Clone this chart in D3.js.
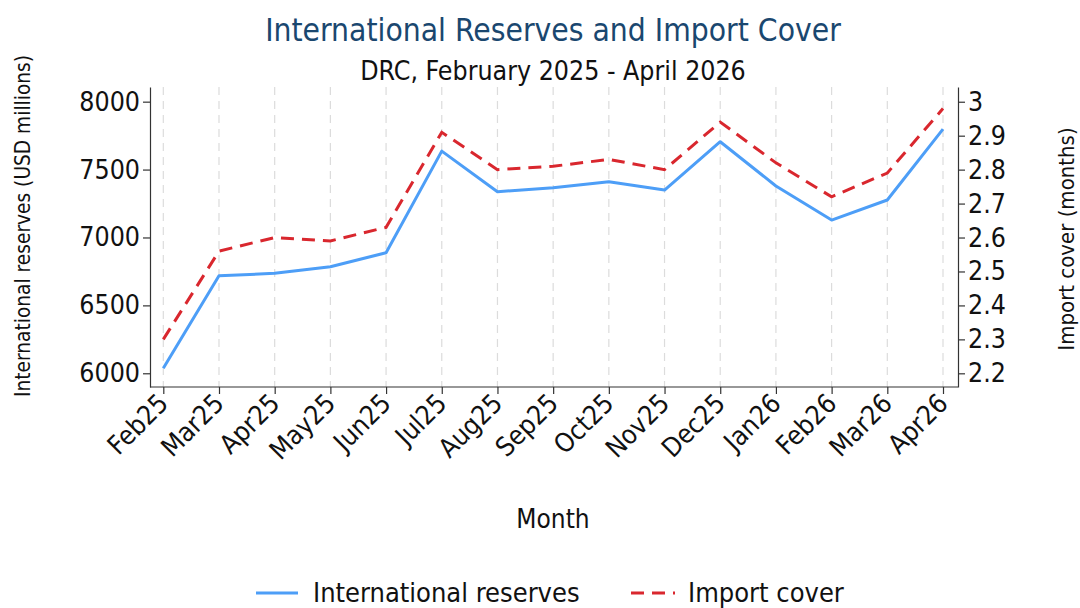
<!DOCTYPE html>
<html><head><meta charset="utf-8">
<script src="https://cdn.jsdelivr.net/npm/d3@7"></script>
<style>
body{margin:0;background:#fff;}
text{font-family:"DejaVu Sans Condensed","DejaVu Sans",sans-serif;}
</style></head>
<body><svg id="c" width="1080" height="608"></svg>
<script>
const months = ["Feb25","Mar25","Apr25","May25","Jun25","Jul25","Aug25","Sep25","Oct25","Nov25","Dec25","Jan26","Feb26","Mar26","Apr26"];
const reserves = [6037,6718,6736,6785,6888,7636,7337,7366,7410,7349,7705,7379,7128,7276,7798];
const importCover = [2.30,2.56,2.60,2.59,2.63,2.91,2.80,2.81,2.83,2.80,2.94,2.82,2.72,2.79,2.98];
const leftTicks = [6000,6500,7000,7500,8000];
const rightTicks = [2.2,2.3,2.4,2.5,2.6,2.7,2.8,2.9,3.0];

const svg = d3.select("#c");
const L=150, R=958, T=87, B=387;
const x = d3.scalePoint().domain(months).range([163.3,943]);
const yL = d3.scaleLinear().domain([5899,8108]).range([B,T]);
const yR = d3.scaleLinear().domain([2.1597,3.0434]).range([B,T]);

// gridlines
svg.append("g").selectAll("line").data(months).join("line")
  .attr("x1",d=>x(d)).attr("x2",d=>x(d)).attr("y1",T).attr("y2",B)
  .attr("stroke","#dcdcdc").attr("stroke-width",1.2).attr("stroke-dasharray","8,6");

const tickStyle = g=>{g.selectAll("path,line").attr("stroke","#333").attr("stroke-width",1.2);
  g.selectAll("text").attr("fill","#111").style("font-size","26.5px");};

svg.append("g").attr("transform",`translate(${L},0)`)
  .call(d3.axisLeft(yL).tickValues(leftTicks).tickSize(7).tickSizeOuter(0).tickPadding(3).tickFormat(d3.format("d")))
  .call(tickStyle);
svg.append("g").attr("transform",`translate(${R},0)`)
  .call(d3.axisRight(yR).tickValues(rightTicks).tickSize(7).tickSizeOuter(0).tickPadding(3).tickFormat(d=>String(+d.toFixed(1))))
  .call(tickStyle);
const xa = svg.append("g").attr("transform",`translate(0,${B})`)
  .call(d3.axisBottom(x).tickSize(7).tickSizeOuter(0).tickPadding(4));
xa.select(".domain").attr("d",`M${L},0H${R}`);
xa.call(tickStyle);
xa.selectAll("text").attr("text-anchor","end").attr("dy","0").attr("y",0)
  .attr("transform","translate(6,18) rotate(-45)");

// lines
svg.append("path").datum(reserves)
  .attr("d",d3.line().x((d,i)=>x(months[i])).y(d=>yL(d)))
  .attr("fill","none").attr("stroke","#4d9ef7").attr("stroke-width",3).attr("stroke-linejoin","round");
svg.append("path").datum(importCover)
  .attr("d",d3.line().x((d,i)=>x(months[i])).y(d=>yR(d)))
  .attr("fill","none").attr("stroke","#d9272e").attr("stroke-width",3).attr("stroke-dasharray","13,8");

// titles
svg.append("text").attr("x",553).attr("y",41).attr("text-anchor","middle")
  .attr("fill","#1a476f").style("font-size","31.5px").text("International Reserves and Import Cover");
svg.append("text").attr("x",553).attr("y",80).attr("text-anchor","middle")
  .attr("fill","#111").style("font-size","26.5px").text("DRC, February 2025 - April 2026");
svg.append("text").attr("transform","translate(30,226) rotate(-90)").attr("text-anchor","middle")
  .attr("fill","#111").style("font-size","20.7px").text("International reserves (USD millions)");
svg.append("text").attr("transform","translate(1074,239) rotate(-90)").attr("text-anchor","middle")
  .attr("fill","#111").style("font-size","22px").text("Import cover (months)");
svg.append("text").attr("x",553).attr("y",528).attr("text-anchor","middle")
  .attr("fill","#111").style("font-size","26px").text("Month");

// legend
const leg = svg.append("g");
leg.append("line").attr("x1",256).attr("x2",298).attr("y1",593).attr("y2",593)
  .attr("stroke","#4d9ef7").attr("stroke-width",3);
leg.append("text").attr("x",313).attr("y",602).attr("fill","#111").style("font-size","27px").text("International reserves");
leg.append("line").attr("x1",631).attr("x2",675).attr("y1",593).attr("y2",593)
  .attr("stroke","#d9272e").attr("stroke-width",3).attr("stroke-dasharray","13,8");
leg.append("text").attr("x",688).attr("y",602).attr("fill","#111").style("font-size","27px").text("Import cover");
</script></body></html>
